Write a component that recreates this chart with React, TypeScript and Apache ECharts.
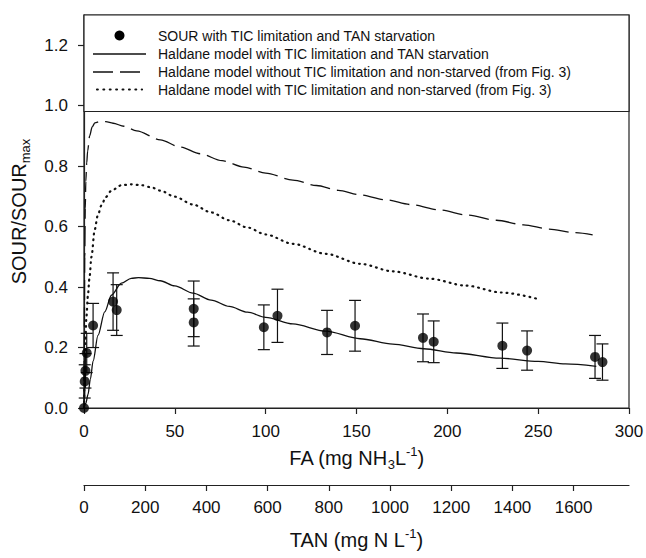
import React, { useEffect, useRef } from 'react';
import * as echarts from 'echarts';

// ---- axis ticks ----
const FA_TICKS = [0, 50, 100, 150, 200, 250, 300];
const TAN_TICKS = [0, 200, 400, 600, 800, 1000, 1200, 1400, 1600];
const Y_TICKS = [0, 0.2, 0.4, 0.6, 0.8, 1.0, 1.2];

// ---- legend / series names ----
const NAMES = [
  'SOUR with TIC limitation and TAN starvation',
  'Haldane model with TIC limitation and TAN starvation',
  'Haldane model without TIC limitation and non-starved (from Fig. 3)',
  'Haldane model with TIC limitation and non-starved (from Fig. 3)',
];

// ---- measured points ----
const POINT_FA = [0, 0.4, 0.8, 1.5, 5, 16, 18, 60.4, 60.4, 99, 106.5, 133.8, 149.2, 186.6, 192.5, 230.3, 243.9, 281.3, 285.4];
const POINT_SOUR = [0, 0.088, 0.123, 0.182, 0.273, 0.352, 0.324, 0.328, 0.283, 0.267, 0.305, 0.25, 0.272, 0.232, 0.219, 0.206, 0.19, 0.169, 0.152];
const POINT_SD = [0, 0.055, 0.057, 0.065, 0.073, 0.095, 0.084, 0.092, 0.078, 0.074, 0.088, 0.073, 0.084, 0.079, 0.069, 0.075, 0.065, 0.071, 0.06];

// ---- Haldane model with TIC limitation and TAN starvation (solid) ----
const SOLID_FA = [0, 1, 2.2, 3.5, 5, 7.7, 11.4, 15.1, 20.6, 26, 30, 36, 42, 50, 60, 70, 80, 90, 100, 115, 133, 152, 170, 187, 205, 229, 250, 265, 282];
const SOLID_Y = [0, 0.015, 0.045, 0.095, 0.155, 0.24, 0.318, 0.373, 0.413, 0.429, 0.431, 0.429, 0.421, 0.404, 0.38, 0.357, 0.336, 0.317, 0.3, 0.278, 0.254, 0.229, 0.211, 0.196, 0.182, 0.165, 0.154, 0.146, 0.138];

// ---- Haldane model without TIC limitation, non-starved (dashed) ----
const DASH_FA = [0, 0.2, 0.4, 0.7, 1, 1.5, 2, 3.1, 4.5, 6, 9, 12, 16, 22, 29, 42, 53, 64, 76, 88, 100, 115, 128, 140, 152, 166, 180, 196, 211, 227, 242, 256, 270, 280];
const DASH_Y = [0, 0.27, 0.5, 0.66, 0.75, 0.81, 0.85, 0.9, 0.93, 0.943, 0.948, 0.947, 0.942, 0.932, 0.917, 0.887, 0.863, 0.841, 0.818, 0.797, 0.777, 0.754, 0.736, 0.72, 0.705, 0.689, 0.673, 0.655, 0.638, 0.621, 0.606, 0.592, 0.58, 0.573];

// ---- Haldane model with TIC limitation, non-starved (dotted) ----
const DOT_FA = [0, 0.4, 0.8, 1.3, 2.2, 3, 4.1, 5.9, 7.5, 9.6, 12, 15.1, 20.6, 26, 31.6, 37, 42, 50, 60, 70, 80, 90, 100, 115, 133, 152, 170, 190, 210, 230, 251];
const DOT_Y = [0, 0.12, 0.22, 0.3, 0.375, 0.43, 0.5, 0.59, 0.635, 0.67, 0.698, 0.719, 0.737, 0.74, 0.737, 0.73, 0.719, 0.699, 0.673, 0.647, 0.621, 0.597, 0.574, 0.543, 0.51, 0.477, 0.452, 0.428, 0.405, 0.382, 0.359];

const FONT = 'Liberation Sans, Arial, sans-serif';
const INK = '#111';

const zip = (xs: number[], ys: number[]) => xs.map((x, i) => [x, ys[i]]);

export default function App() {
  const ref = useRef<HTMLDivElement>(null);

  useEffect(() => {
    document.body.style.margin = '0';
    if (!ref.current) return;
    const chart = echarts.init(ref.current, null, { renderer: 'svg' });

    const errData = POINT_FA.map((x, i) => [x, POINT_SOUR[i] - POINT_SD[i], POINT_SOUR[i] + POINT_SD[i]]).filter((_, i) => POINT_SD[i] > 0);

    const axisLineStyle = { color: '#222', width: 1.2 };
    const richSubSup = {
      sub: { fontSize: 13, fontFamily: FONT, color: INK, verticalAlign: 'bottom', lineHeight: 13 },
      sup: { fontSize: 13, fontFamily: FONT, color: INK, verticalAlign: 'top', lineHeight: 13 },
    };
    const titleStyle = { fontSize: 20, fontFamily: FONT, color: INK, lineHeight: 26, rich: richSubSup };
    const tickFont = { fontSize: 17, fontFamily: FONT, color: INK };

    const lx0 = 93, lx1 = 146, tx = 158;
    const rowY = [35.5, 54, 72, 89.5];

    const option: any = {
      animation: false,
      backgroundColor: '#fff',
      grid: { left: 84, right: 17, top: 15, bottom: 150, show: true, borderColor: '#222', borderWidth: 1.2, outerBoundsMode: 'none' },
      xAxis: [
        {
          type: 'value', min: 0, max: 300, interval: 50, position: 'bottom',
          name: 'FA (mg NH{sub|3}L{sup|-1})', nameLocation: 'middle', nameGap: 37,
          nameTextStyle: titleStyle,
          axisLine: { show: true, lineStyle: axisLineStyle },
          axisTick: { show: true, length: 6, lineStyle: axisLineStyle, customValues: FA_TICKS },
          axisLabel: { ...tickFont, margin: 15, customValues: FA_TICKS },
          splitLine: { show: false },
        },
        {
          type: 'value', min: 0, max: 1781, position: 'bottom', offset: 77,
          name: 'TAN (mg N L{sup|-1})', nameLocation: 'middle', nameGap: 42,
          nameTextStyle: titleStyle,
          axisLine: { show: true, onZero: false, lineStyle: axisLineStyle },
          axisTick: { show: true, length: 6, lineStyle: axisLineStyle, customValues: TAN_TICKS },
          axisLabel: { ...tickFont, margin: 14, customValues: TAN_TICKS, formatter: (v: number) => String(v) },
          splitLine: { show: false },
        },
      ],
      yAxis: {
        type: 'value', min: 0, max: 1.3, interval: 0.2,
        name: 'SOUR/SOUR{sub|max}', nameLocation: 'middle', nameGap: 52,
        nameTextStyle: titleStyle,
        axisLine: { show: true, lineStyle: axisLineStyle },
        axisTick: { show: true, length: 6, lineStyle: axisLineStyle, customValues: Y_TICKS },
        axisLabel: { ...tickFont, margin: 16, customValues: Y_TICKS, formatter: (v: number) => v.toFixed(1) },
        splitLine: { show: false },
      },
      series: [
        {
          name: NAMES[2], type: 'line', data: zip(DASH_FA, DASH_Y), showSymbol: false, smooth: 0.3, smoothMonotone: 'x',
          lineStyle: { color: '#111', width: 1.3, type: [20, 7] }, z: 2,
        },
        {
          name: NAMES[3], type: 'line', data: zip(DOT_FA, DOT_Y), showSymbol: false, smooth: 0.3, smoothMonotone: 'x',
          lineStyle: { color: '#111', width: 2.2, type: [0.8, 5], cap: 'round' }, z: 2,
        },
        {
          name: NAMES[1], type: 'line', data: zip(SOLID_FA, SOLID_Y), showSymbol: false, smooth: 0.3, smoothMonotone: 'x',
          lineStyle: { color: '#111', width: 1.3, type: 'solid' }, z: 2,
        },
        {
          name: 'error', type: 'custom', data: errData, encode: { x: 0, y: [1, 2] }, z: 3,
          renderItem: (params: any, api: any) => {
            const x = api.value(0), lo = api.value(1), hi = api.value(2);
            const a = api.coord([x, lo]);
            const b = api.coord([x, hi]);
            const hw = 6;
            const style = { stroke: '#111', lineWidth: 1.2 };
            return {
              type: 'group',
              children: [
                { type: 'line', shape: { x1: a[0], y1: a[1], x2: b[0], y2: b[1] }, style },
                { type: 'line', shape: { x1: a[0] - hw, y1: a[1], x2: a[0] + hw, y2: a[1] }, style },
                { type: 'line', shape: { x1: b[0] - hw, y1: b[1], x2: b[0] + hw, y2: b[1] }, style },
              ],
            };
          },
        },
        {
          name: NAMES[0], type: 'scatter', data: zip(POINT_FA, POINT_SOUR), symbol: 'circle', symbolSize: 10,
          itemStyle: { color: '#000' }, z: 4,
        },
      ],
      graphic: [
        { type: 'rect', shape: { x: 84, y: 15, width: 545, height: 96.5 }, style: { fill: '#fff', stroke: '#222', lineWidth: 1.2 }, z: 10 },
        { type: 'circle', shape: { cx: 119.5, cy: rowY[0], r: 5 }, style: { fill: '#000' }, z: 11 },
        { type: 'line', shape: { x1: lx0, y1: rowY[1], x2: lx1, y2: rowY[1] }, style: { stroke: '#111', lineWidth: 1.3 }, z: 11 },
        { type: 'line', shape: { x1: lx0, y1: rowY[2], x2: 140, y2: rowY[2] }, style: { stroke: '#111', lineWidth: 1.3, lineDash: [20, 7] }, z: 11 },
        { type: 'line', shape: { x1: 97, y1: rowY[3], x2: 142, y2: rowY[3] }, style: { stroke: '#111', lineWidth: 2.2, lineDash: [0.8, 5.6], lineCap: 'round' }, z: 11 },
        ...NAMES.map((n, i) => ({
          type: 'text', x: tx, y: rowY[i], z: 11,
          style: { text: n, fontSize: 14, fontFamily: FONT, fill: INK, verticalAlign: 'middle', align: 'left' },
        })),
      ],
    };

    chart.setOption(option);
    return () => chart.dispose();
  }, []);

  return <div ref={ref} style={{ width: 646, height: 558 }} />;
}
